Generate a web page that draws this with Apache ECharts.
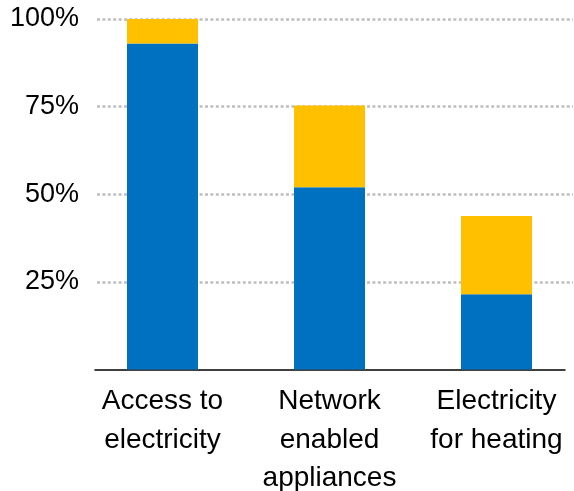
<!DOCTYPE html>
<html>
<head>
<meta charset="utf-8">
<script src="https://cdn.jsdelivr.net/npm/echarts@6/dist/echarts.min.js"></script>
<style>
  html, body { margin: 0; padding: 0; background: #fff; }
  #chart { width: 574px; height: 491px; }
</style>
</head>
<body>
<div id="chart"></div>
<script>
// Share of households (%), stacked: base share + additional share
const categories = ['Access to\nelectricity', 'Network\nenabled\nappliances', 'Electricity\nfor heating'];
const baseShare = [93, 52, 21.5];
const extraShare = [7, 23.3, 22.3];
const yTicks = [25, 50, 75, 100];

const FONT = '"Liberation Sans", Arial, sans-serif';
const TOP = 19;
const BOTTOM = 121.5;

const chart = echarts.init(document.getElementById('chart'), null, { renderer: 'canvas' });

const gridBase = { top: TOP, bottom: BOTTOM, containLabel: false, outerBoundsMode: 'none' };

const hiddenY = (gridIndex) => ({
  type: 'value', gridIndex, min: 0, max: 100, interval: 25,
  axisLine: { show: false }, axisTick: { show: false },
  axisLabel: { show: false }, splitLine: { show: false }
});

chart.setOption({
  animation: false,
  grid: [
    // bars
    Object.assign({ left: 79, width: 501 }, gridBase),
    // value gridlines + y labels
    Object.assign({ left: 97, right: 1 }, gridBase),
    // baseline
    Object.assign({ left: 95, right: 9 }, gridBase)
  ],
  xAxis: [
    {
      type: 'category', gridIndex: 0, data: categories,
      axisLine: { show: false }, axisTick: { show: false },
      axisLabel: {
        interval: 0, margin: 13, fontSize: 28, lineHeight: 38.5,
        color: '#000', fontFamily: FONT
      }
    },
    {
      type: 'category', gridIndex: 1, data: categories, show: false
    },
    {
      type: 'category', gridIndex: 2, data: categories,
      axisLine: { show: true, lineStyle: { color: '#000', width: 1.5 } },
      axisTick: { show: false }, axisLabel: { show: false }
    }
  ],
  yAxis: [
    hiddenY(0),
    {
      type: 'value', gridIndex: 1, min: 0, max: 100, interval: 25,
      axisLine: { show: false }, axisTick: { show: false },
      axisLabel: {
        margin: 18, fontSize: 27, color: '#000', fontFamily: FONT,
        formatter: (v) => (yTicks.includes(v) ? v + '%' : '')
      },
      splitLine: {
        show: true, showMinLine: false,
        lineStyle: { color: '#BEBEBE', width: 2.5, type: [3, 2.4] }
      }
    },
    hiddenY(2)
  ],
  series: [
    {
      type: 'bar', xAxisIndex: 0, yAxisIndex: 0, stack: 'share',
      data: baseShare, barWidth: 71,
      itemStyle: { color: '#0070C0' }
    },
    {
      type: 'bar', xAxisIndex: 0, yAxisIndex: 0, stack: 'share',
      data: extraShare, barWidth: 71,
      itemStyle: { color: '#FFC000' }
    }
  ]
});
</script>
</body>
</html>
